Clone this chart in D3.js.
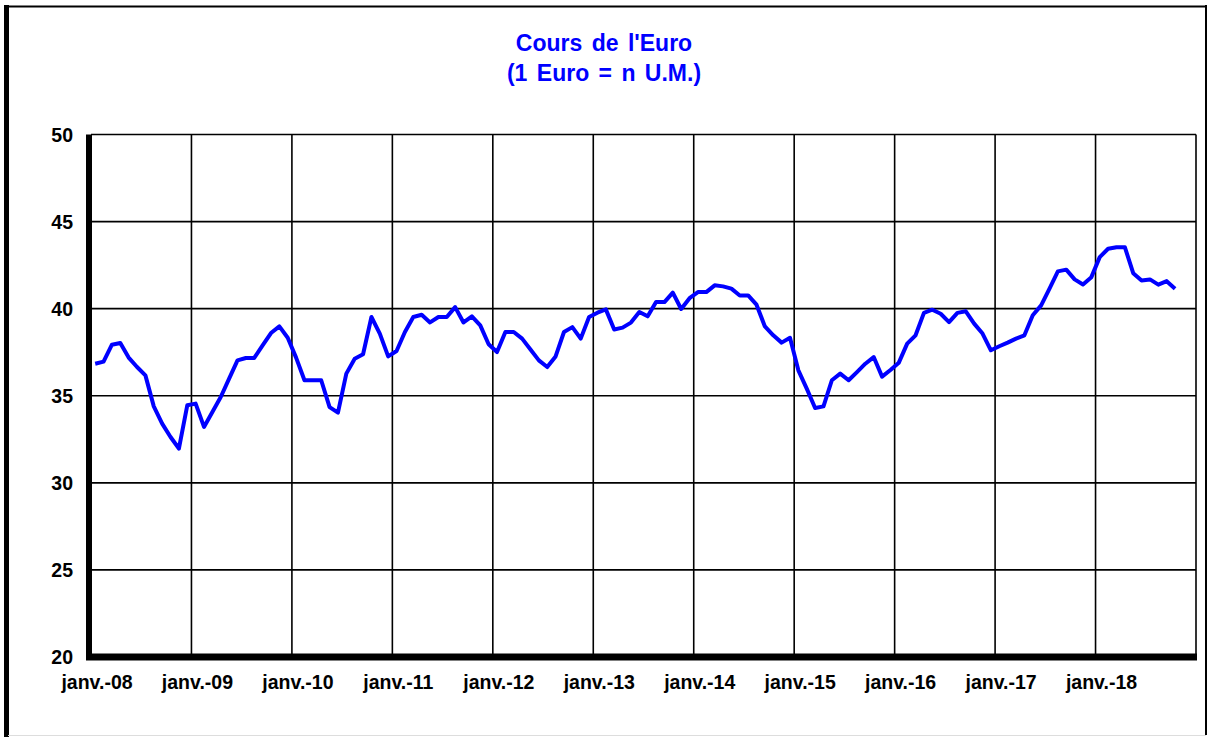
<!DOCTYPE html>
<html>
<head>
<meta charset="utf-8">
<script src="https://cdn.jsdelivr.net/npm/d3@7"></script>
<style>
  body { margin: 0; background: #fff; }
  svg { display: block; }
  text { font-family: "Liberation Sans", Arial, sans-serif; font-weight: bold; }
</style>
</head>
<body>
<script>
(function(){

//title lines
var titleLines = ["Cours de l'Euro", "(1 Euro = n U.M.)"];

//x axis: one label per january, 12 months per year
var tickLabels = ["janv.-08", "janv.-09", "janv.-10", "janv.-11", "janv.-12", "janv.-13",
  "janv.-14", "janv.-15", "janv.-16", "janv.-17", "janv.-18"];
var monthCount = 132; //jan 2008 .. dec 2018

//y axis ticks
var yTicks = [20, 25, 30, 35, 40, 45, 50];

//monthly rate, jan 2008 .. oct 2018
var values = [
  36.84, 36.96, 37.93, 38.03, 37.19, 36.65, 36.17, 34.39, 33.40, 32.63, 31.97, 34.45, //2008
  34.55, 33.21, 34.07, 34.93, 35.98, 37.03, 37.17, 37.17, 37.89, 38.60, 38.98, 38.33, //2009
  37.19, 35.89, 35.89, 35.89, 34.35, 34.03, 36.27, 37.13, 37.38, 39.52, 38.57, 37.26, //2010
  37.57, 38.66, 39.52, 39.65, 39.21, 39.52, 39.52, 40.09, 39.21, 39.56, 39.04, 37.96, //2011
  37.51, 38.66, 38.66, 38.28, 37.66, 37.03, 36.65, 37.26, 38.66, 38.94, 38.28, 39.52, //2012
  39.77, 39.96, 38.80, 38.91, 39.20, 39.81, 39.56, 40.38, 40.38, 40.92, 39.98, 40.60, //2013
  40.95, 40.95, 41.34, 41.28, 41.15, 40.76, 40.76, 40.23, 38.98, 38.47, 38.05, 38.33, //2014
  36.46, 35.41, 34.30, 34.39, 35.89, 36.27, 35.89, 36.36, 36.84, 37.22, 36.10, 36.48, //2015
  36.90, 37.99, 38.47, 39.76, 39.94, 39.71, 39.23, 39.76, 39.85, 39.14, 38.57, 37.61, //2016
  37.84, 38.05, 38.28, 38.47, 39.62, 40.19, 41.15, 42.14, 42.24, 41.68, 41.39, 41.81, //2017
  42.96, 43.44, 43.53, 43.53, 42.04, 41.62, 41.68, 41.38, 41.58, 41.15              //2018
];

var width = 1208,
    height = 737;

var svg = d3.select("body")
  .append("svg")
  .attr("width", width)
  .attr("height", height);

//outer frame
svg.append("rect")
  .attr("x", 0).attr("y", 0).attr("width", width).attr("height", height)
  .attr("fill", "#fff");
svg.append("line").attr("x1", 4).attr("x2", 1207).attr("y1", 6.5).attr("y2", 6.5)
  .attr("stroke", "#000").attr("stroke-width", 2);
svg.append("line").attr("x1", 6.5).attr("x2", 6.5).attr("y1", 5).attr("y2", 737)
  .attr("stroke", "#000").attr("stroke-width", 5);
svg.append("line").attr("x1", 1206).attr("x2", 1206).attr("y1", 5).attr("y2", 735)
  .attr("stroke", "#000").attr("stroke-width", 2);
svg.append("line").attr("x1", 8).attr("x2", 1206).attr("y1", 735.5).attr("y2", 735.5)
  .attr("stroke", "#ddd").attr("stroke-width", 1);

//plot area
var left = 91, right = 1196, top = 134.5, bottom = 657;

var x = d3.scaleLinear()
  .domain([0, monthCount])
  .range([left, right]);

var y = d3.scaleLinear()
  .domain([20, 50])
  .range([bottom, top]);

//horizontal gridlines
svg.append("g")
  .selectAll("line")
  .data(yTicks.slice(1))
  .enter()
  .append("line")
  .attr("x1", left).attr("x2", right)
  .attr("y1", function(d){ return y(d); })
  .attr("y2", function(d){ return y(d); })
  .attr("stroke", "#000")
  .attr("stroke-width", 1.6);

//vertical gridlines at each january
svg.append("g")
  .selectAll("line")
  .data(d3.range(12, monthCount + 1, 12))
  .enter()
  .append("line")
  .attr("x1", function(d){ return x(d); })
  .attr("x2", function(d){ return x(d); })
  .attr("y1", top).attr("y2", bottom)
  .attr("stroke", "#000")
  .attr("stroke-width", 1.6);

//thick axes
svg.append("line")
  .attr("x1", left - 2).attr("x2", left - 2)
  .attr("y1", top).attr("y2", bottom + 3)
  .attr("stroke", "#000").attr("stroke-width", 6);
svg.append("line")
  .attr("x1", left - 5).attr("x2", right + 1)
  .attr("y1", bottom).attr("y2", bottom)
  .attr("stroke", "#000").attr("stroke-width", 7);

//y labels
svg.append("g")
  .selectAll("text")
  .data(yTicks)
  .enter()
  .append("text")
  .attr("x", 73)
  .attr("y", function(d){ return y(d) + 7; })
  .attr("text-anchor", "end")
  .style("font-size", "19.5px")
  .attr("fill", "#000")
  .text(function(d){ return d; });

//x labels
svg.append("g")
  .selectAll("text")
  .data(tickLabels)
  .enter()
  .append("text")
  .attr("x", function(d, i){ return x(i * 12) + 6; })
  .attr("y", 689)
  .attr("text-anchor", "middle")
  .style("font-size", "19.5px")
  .attr("fill", "#000")
  .text(function(d){ return d; });

//title
svg.append("g")
  .selectAll("text")
  .data(titleLines)
  .enter()
  .append("text")
  .attr("x", 604)
  .attr("y", function(d, i){ return 51 + i * 30; })
  .attr("text-anchor", "middle")
  .style("font-size", "23px")
  .style("word-spacing", "3px")
  .attr("fill", "#0000ff")
  .text(function(d){ return d; });

//the rate line, points centred in each month
var line = d3.line()
  .x(function(d, i){ return x(i + 0.5); })
  .y(function(d){ return y(d); });

svg.append("path")
  .datum(values)
  .attr("d", line)
  .attr("fill", "none")
  .attr("stroke", "#0000ff")
  .attr("stroke-width", 4)
  .attr("stroke-linejoin", "round");

})();
</script>
</body>
</html>
